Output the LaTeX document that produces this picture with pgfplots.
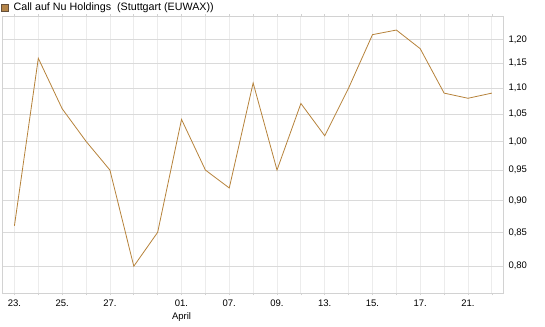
\documentclass[border=0pt]{standalone}
\usepackage{fontspec}
\setmainfont{Liberation Sans}
\usepackage{pgfplots}
\pgfplotsset{compat=1.18}
\definecolor{linec}{RGB}{182,130,58}
\definecolor{legfill}{RGB}{180,132,72}
\definecolor{legdraw}{RGB}{100,80,60}
\definecolor{vgrid}{RGB}{236,236,236}
\definecolor{hgrid}{RGB}{218,218,218}
\definecolor{axisc}{RGB}{210,210,210}
\begin{document}
\begin{tikzpicture}
\useasboundingbox (0,0) rectangle (545bp,327bp);
\begin{axis}[
  at={(2.5bp,33.5bp)}, anchor=south west,
  scale only axis, width=500.8bp, height=277.2bp,
  xmin=-0.5, xmax=20.48,
  ymode=log, ymin=0.762, ymax=1.2503,
  axis line style={draw=axisc, line width=0.8bp},
  xmajorgrids, ymajorgrids,
  x grid style={draw=vgrid, line width=0.8bp},
  y grid style={draw=hgrid, line width=0.8bp},
  xtick={0,...,20},
  xticklabels={23.,,25.,,27.,,,{01.\\April},,07.,,09.,,13.,,15.,,17.,,21.,},
  xticklabel style={align=center, font=\fontsize{9.5bp}{12.4bp}\selectfont, inner sep=0pt, anchor=north, yshift=-4.5bp},
  tick align=outside, major tick length=2bp,
  xtick style={draw=axisc, line width=0.6bp},
  ytick={0.8,0.85,0.9,0.95,1.0,1.05,1.1,1.15,1.2},
  yticklabels={{0,80},{0,85},{0,90},{0,95},{1,00},{1,05},{1,10},{1,15},{1,20}},
  yticklabel pos=right,
  ytick style={draw=none},
  yticklabel style={font=\fontsize{9.5bp}{11bp}\selectfont, inner sep=0pt, anchor=west, xshift=3bp},
  log basis y=10,
  clip=true,
]
\addplot[color=linec, line width=0.8bp, mark=none, sharp plot] coordinates {
(0,0.86) (1,1.16) (2,1.06) (3,1.00) (4,0.95) (5,0.80) (6,0.85) (7,1.04)
(8,0.95) (9,0.92) (10,1.11) (11,0.95) (12,1.07) (13,1.01) (14,1.10)
(15,1.21) (16,1.22) (17,1.18) (18,1.09) (19,1.08) (20,1.09)
};
\end{axis}
\fill[legfill, draw=legdraw, line width=0.6bp] (1.5bp,315.5bp) rectangle (8.5bp,322.5bp);
\node[anchor=west, inner sep=0pt, font=\fontsize{10.7bp}{12bp}\selectfont] at (13.5bp,319bp) {Call auf Nu Holdings\ \ (Stuttgart (EUWAX))};
\end{tikzpicture}
\end{document}
